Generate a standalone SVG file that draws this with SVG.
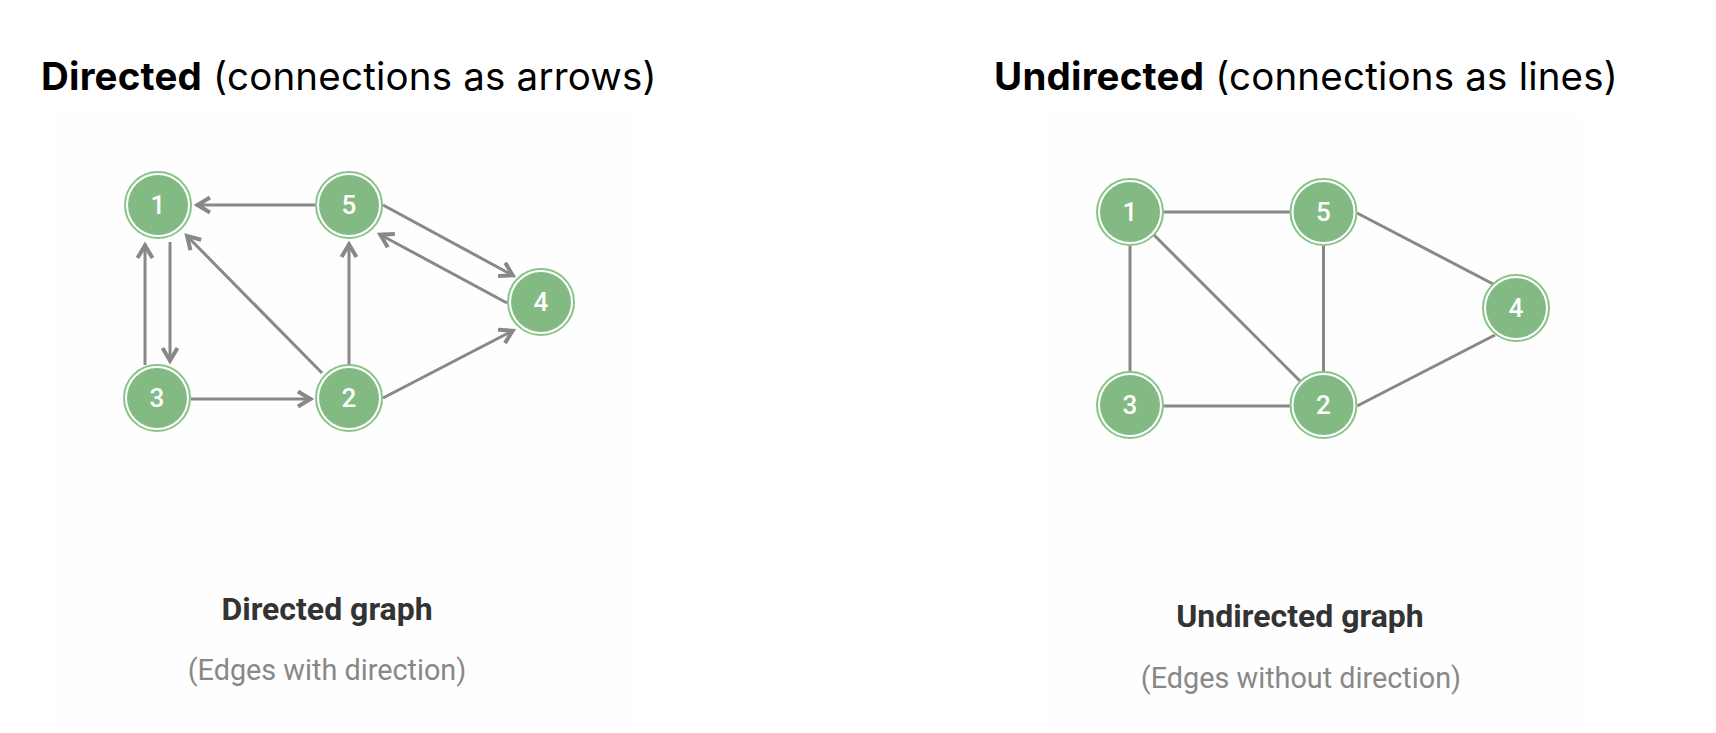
<svg xmlns="http://www.w3.org/2000/svg" width="1716" height="733" viewBox="0 0 1716 733">
  <style>
    .title { font-family: Inter, "Liberation Sans", sans-serif; font-size: 38.5px; letter-spacing: 0.2px; fill: #000; }
    .title .b { font-weight: 700; }
    .cap { font-family: Roboto, "Liberation Sans", sans-serif; font-size: 32px; font-weight: 700; fill: #333; text-anchor: middle; }
    .sub { font-family: Roboto, "Liberation Sans", sans-serif; font-size: 28.8px; fill: #888; text-anchor: middle; }
    .ring { fill: #fff; stroke: #86c488; stroke-width: 2; }
    .core { fill: #83ba83; }
    .num { font-family: Roboto, "Liberation Sans", sans-serif; font-size: 26px; font-weight: 500; fill: #fff; text-anchor: middle; }
    .edge { stroke: #888; stroke-width: 3; fill: none; }
    .panel { fill: #fefefe; }
  </style>
  <defs>
    <marker id="arr" markerUnits="userSpaceOnUse" markerWidth="30" markerHeight="30" viewBox="-20 -15 30 30" refX="0" refY="0" orient="auto" overflow="visible">
      <path d="M-14,-7.5 L-1.5,0 L-14,7.5" fill="none" stroke="#888" stroke-width="4" stroke-linejoin="miter"/>
    </marker>
  </defs>
  <rect width="1716" height="733" fill="#fff"/>
  <rect class="panel" x="58" y="113" width="577" height="620"/>
  <rect class="panel" x="1048" y="113" width="533" height="620"/>

  <text class="title" x="41" y="90"><tspan class="b">Directed</tspan> (connections as arrows)</text>
  <text class="title" x="994" y="90"><tspan class="b">Undirected</tspan> (connections as lines)</text>

  <g id="connectors">
    <!-- directed -->
    <line class="edge" x1="315" y1="205" x2="196" y2="205" marker-end="url(#arr)"/>
    <line class="edge" x1="383" y1="205" x2="514" y2="276" marker-end="url(#arr)"/>
    <line class="edge" x1="507" y1="303" x2="379" y2="234" marker-end="url(#arr)"/>
    <line class="edge" x1="322" y1="373" x2="186" y2="235" marker-end="url(#arr)"/>
    <line class="edge" x1="349" y1="364" x2="349" y2="243" marker-end="url(#arr)"/>
    <line class="edge" x1="145" y1="365" x2="145" y2="244" marker-end="url(#arr)"/>
    <line class="edge" x1="170" y1="242" x2="170" y2="362" marker-end="url(#arr)"/>
    <line class="edge" x1="191" y1="399" x2="312" y2="399" marker-end="url(#arr)"/>
    <line class="edge" x1="383" y1="398" x2="514" y2="330" marker-end="url(#arr)"/>
    <!-- undirected -->
    <line class="edge" x1="1164" y1="212" x2="1290" y2="212"/>
    <line class="edge" x1="1357" y1="213" x2="1495" y2="285"/>
    <line class="edge" x1="1130" y1="246" x2="1130" y2="371"/>
    <line class="edge" x1="1154" y1="235" x2="1300" y2="381"/>
    <line class="edge" x1="1323.5" y1="246" x2="1323.5" y2="371"/>
    <line class="edge" x1="1164" y1="406" x2="1290" y2="406"/>
    <line class="edge" x1="1357" y1="406" x2="1495" y2="335"/>
  </g>

  <g id="d1"><circle class="ring" cx="158" cy="205" r="33"/><circle class="core" cx="158" cy="205" r="30"/><text class="num" x="158" y="214">1</text></g>
  <g id="d5"><circle class="ring" cx="349" cy="205" r="33"/><circle class="core" cx="349" cy="205" r="30"/><text class="num" x="349" y="214">5</text></g>
  <g id="d4"><circle class="ring" cx="541" cy="302" r="33"/><circle class="core" cx="541" cy="302" r="30"/><text class="num" x="541" y="311">4</text></g>
  <g id="d3"><circle class="ring" cx="157" cy="398" r="33"/><circle class="core" cx="157" cy="398" r="30"/><text class="num" x="157" y="407">3</text></g>
  <g id="d2"><circle class="ring" cx="349" cy="398" r="33"/><circle class="core" cx="349" cy="398" r="30"/><text class="num" x="349" y="407">2</text></g>

  <g id="u1"><circle class="ring" cx="1130" cy="212" r="33"/><circle class="core" cx="1130" cy="212" r="30"/><text class="num" x="1130" y="221">1</text></g>
  <g id="u5"><circle class="ring" cx="1323.5" cy="212" r="33"/><circle class="core" cx="1323.5" cy="212" r="30"/><text class="num" x="1323.5" y="221">5</text></g>
  <g id="u4"><circle class="ring" cx="1516" cy="308" r="33"/><circle class="core" cx="1516" cy="308" r="30"/><text class="num" x="1516" y="317">4</text></g>
  <g id="u3"><circle class="ring" cx="1130" cy="405" r="33"/><circle class="core" cx="1130" cy="405" r="30"/><text class="num" x="1130" y="414">3</text></g>
  <g id="u2"><circle class="ring" cx="1323.5" cy="405" r="33"/><circle class="core" cx="1323.5" cy="405" r="30"/><text class="num" x="1323.5" y="414">2</text></g>

  <text class="cap" x="327" y="620">Directed graph</text>
  <text class="sub" x="327" y="680">(Edges with direction)</text>
  <text class="cap" x="1300" y="627">Undirected graph</text>
  <text class="sub" x="1301" y="688">(Edges without direction)</text>
</svg>
